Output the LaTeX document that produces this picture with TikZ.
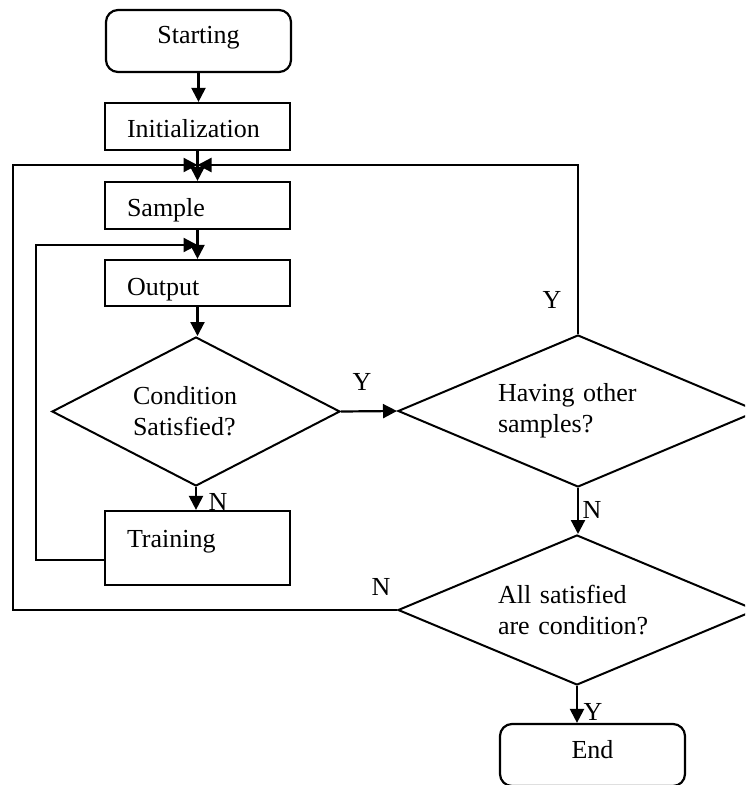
\documentclass[tikz,border=0pt]{standalone}
\usepackage{fontspec}
\setmainfont{Liberation Serif}
\usetikzlibrary{shapes.geometric,arrows.meta}
\begin{document}
\begin{tikzpicture}[x=1pt,y=-1pt,
  every node/.style={font=\fontsize{26}{31}\selectfont},
  ln/.style={line width=2.2pt},
  arr/.style={ln,-{Triangle[length=14pt,width=14pt]}},
  box/.style={draw,line width=2.2pt,minimum width=185pt,text width=141pt,inner xsep=22pt,inner ysep=0pt,align=left},
  term/.style={box,rounded corners=12pt,align=center},
  dec/.style={draw,line width=2pt,shape=diamond,aspect=2.2,inner sep=0pt,align=left},
  lab/.style={inner sep=0pt}]
\path[use as bounding box] (0,0) rectangle (745,785);
\clip (0,0) rectangle (745,785);

\node[term,minimum height=62pt,text height=17pt,text depth=13pt] (start) at (198.5,41) {Starting};
\node[box,minimum height=47pt,text height=21pt,text depth=0pt] (init) at (197.5,126.5) {Initialization};
\node[box,minimum height=47pt,text height=22pt,text depth=0pt] (sample) at (197.5,205.5) {Sample};
\node[box,minimum height=46pt,text height=24pt,text depth=0pt] (output) at (197.5,283) {Output};
\node[dec,minimum width=288pt,minimum height=149pt,text width=126pt] (d1) at (196,411.5) {Condition\\Satisfied?};
\node[box,minimum height=74pt,text height=17pt,text depth=19pt] (train) at (197.5,548) {Training};
\node[dec,minimum width=360pt,minimum height=152pt,text width=160pt] (d2) at (578,411) {Having other\\samples?};
\node[dec,minimum width=358pt,minimum height=150pt,text width=158pt] (d3) at (577,610) {All satisfied\\are condition?};
\node[term,minimum height=62pt,text height=17pt,text depth=11pt] (end) at (592.5,755) {End};

\coordinate (j1) at (197.5,165);
\coordinate (j2) at (197.5,245);
\coordinate (xl1) at (13,0);
\coordinate (xl2) at (36,0);

\draw[arr] (start.south) -- (start.south |- init.north);
\draw[arr] (init.south) -- (init.south |- sample.north);
\draw[arr] (sample.south) -- (sample.south |- output.north);
\draw[arr] (output.south) -- (output.south |- d1.north);
\draw[arr] (d1.south) -- (d1.south |- train.north);
\draw[arr] (d1.east) -- (d2.west);
\draw[arr] (d2.south) -- (d2.south |- d3.north);
\draw[arr] (d3.south) -- (d3.south |- end.north);
\draw[arr] (d2.north) |- (j1);
\draw[arr] (d3.west) -| (xl1 |- j1) -- (j1);
\draw[arr] ([yshift=-12pt]train.west) -| (xl2 |- j2) -- (j2);

\node[lab] (ly1) at (362,382) {Y};
\node[lab] (ly2) at (552,300) {Y};
\node[lab] (ln1) at (218,502) {N};
\node[lab] (ln2) at (592,510) {N};
\node[lab] (ln3) at (381,587) {N};
\node[lab] (ly3) at (593,712) {Y};
\end{tikzpicture}
\end{document}
